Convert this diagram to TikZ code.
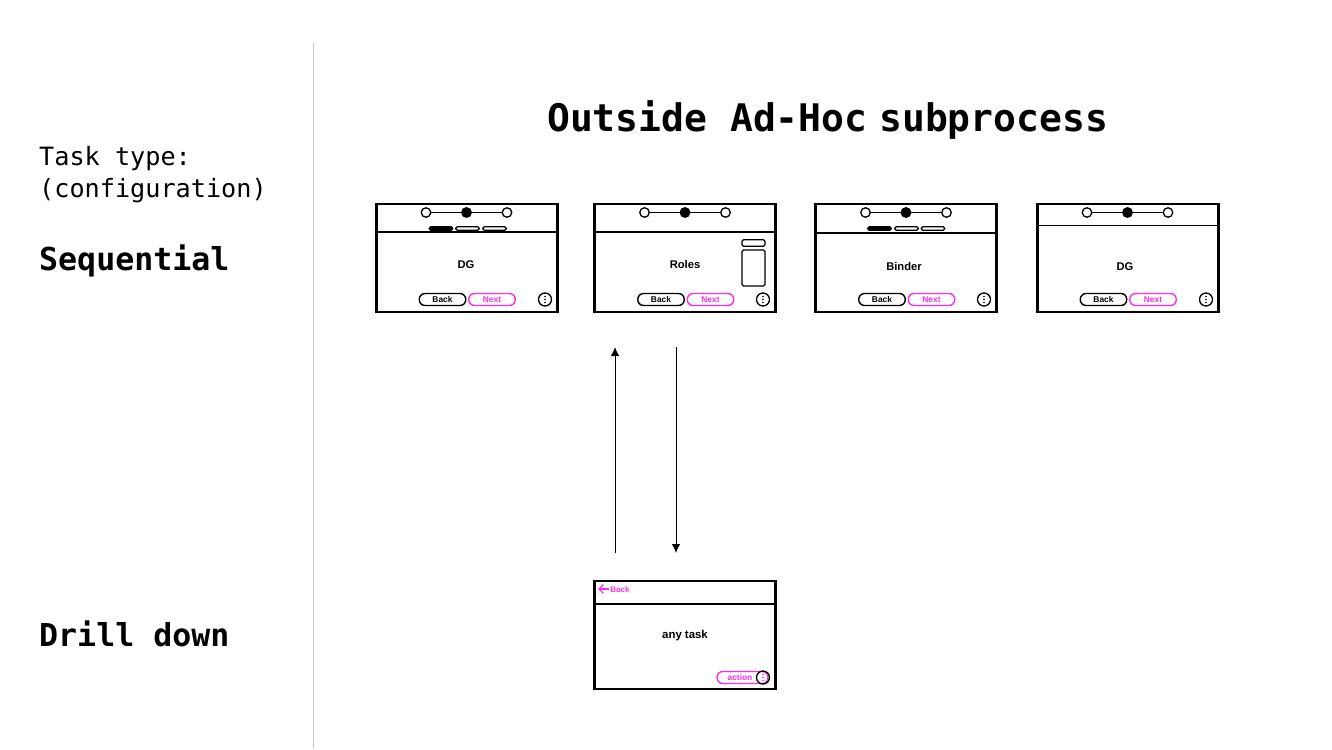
\documentclass[tikz,border=0pt]{standalone}
\usepackage{fontspec}
\setmainfont{Liberation Sans}
\setmonofont{DejaVu Sans Mono}
\usetikzlibrary{arrows.meta}
\definecolor{pinkaction}{HTML}{F92FE6}
\definecolor{dividergray}{HTML}{C4C4C4}
\tikzset{
  screenbox/.style={draw, line width=2.6pt, minimum width=181pt, minimum height=108pt, inner sep=0pt},
  thinrule/.style={line width=1.2pt},
  stepdot/.style={draw, circle, line width=1.3pt, minimum size=9.5pt, inner sep=0pt, fill=white},
  stepcur/.style={stepdot, fill=black},
  btn/.style={draw, rounded corners=5.8pt, line width=1.4pt, minimum width=46.5pt, minimum height=12pt, inner sep=0pt, font=\bfseries\fontsize{8.4}{8.4}\selectfont},
  btnnext/.style={btn, draw=pinkaction, text=pinkaction},
  tab/.style={draw, rounded corners=1.5pt, line width=1.2pt, minimum width=23.5pt, minimum height=3.5pt, inner sep=0pt},
  tabcur/.style={tab, fill=black},
  sidebox/.style={draw, rounded corners=1.5pt, line width=1.3pt, minimum width=23pt, inner sep=0pt},
  menudot/.style={draw, circle, line width=1.3pt, minimum size=13pt, inner sep=0pt},
  screenlabel/.style={font=\bfseries\fontsize{11.2}{11.2}\selectfont, inner sep=0pt},
  sidelabel/.style={anchor=base west, inner sep=0pt, font=\ttfamily\fontsize{25.2}{25.2}\selectfont},
  sidehead/.style={anchor=base west, inner sep=0pt, font=\ttfamily\bfseries\fontsize{31.6}{31.6}\selectfont},
  flow/.style={-{Latex[length=9pt,width=8.5pt]}, line width=1pt}
}
\begin{document}
\begin{tikzpicture}[x=1pt, y=-1pt]
  \useasboundingbox (0,0) rectangle (1332,749);

  % Left column
  \coordinate (divtop) at (313.5,43);
  \coordinate (divbot) at (313.5,749);
  \draw[dividergray, line width=1pt] (divtop) -- (divbot);
  \node[sidelabel] (tasktype) at (39,165) {Task type:};
  \node[sidelabel] (config) at (39,197) {(configuration)};
  \node[sidehead] (sequential) at (39,270.5) {Sequential};
  \node[sidehead] (drill) at (39,646) {Drill down};

  % Title
  \node[anchor=base west, inner sep=0pt, font=\ttfamily\bfseries\fontsize{38}{38}\selectfont] (title) at (547,131.5) {Outside Ad-Hoc\hspace{-11pt} subprocess};

  % Sequential screens: left edge, rule, stepper, label, back button
  \foreach \n/\x/\r/\s/\lx/\ly/\lab/\b in {
      a/376.5/232/466.5/466/264.5/DG/442.5,
      b/594.5/232/685/685/264.5/Roles/661,
      c/815.5/233/906/904/266.5/Binder/882,
      d/1037.5/225.5/1127.5/1125/266.5/DG/1103.5} {
    \node[screenbox] (frame\n) at ({\x+90.5},258) {};
    \draw[thinrule] (\x,\r) -- ({\x+181},\r);
    \node[stepdot] (first\n) at ({\s-40.5},212.5) {};
    \node[stepcur] (mid\n) at (\s,212.5) {};
    \node[stepdot] (last\n) at ({\s+40.5},212.5) {};
    \draw[thinrule] (first\n) -- (mid\n);
    \draw[thinrule] (mid\n) -- (last\n);
    \node[screenlabel] (label\n) at (\lx,\ly) {\lab};
    \node[btn] (back\n) at (\b,299.5) {Back};
    \node[btnnext] (next\n) at ({\b+49.5},299.5) {Next};
    \node[menudot] (menu\n) at ({\x+168.5},299.5) {};
    \foreach \d in {-3,0,3} {
      \fill (menu\n.center) ++(0,\d) circle (0.95);
    }
  }

  % Tabs on the first and third screen
  \node[tabcur] (taba1) at (441,228.5) {};
  \node[tab] (taba2) at (467.5,228.5) {};
  \node[tab] (taba3) at (494.5,228.5) {};
  \node[tabcur] (tabc1) at (879.5,228.5) {};
  \node[tab] (tabc2) at (906.5,228.5) {};
  \node[tab] (tabc3) at (933,228.5) {};

  % Side panel on the roles screen
  \node[sidebox, minimum height=6.5pt] (panelhead) at (753.5,243) {};
  \node[sidebox, minimum height=36pt] (panelbody) at (753.5,268) {};

  % Arrows between roles and drill down
  \coordinate (upstart) at (615,553);
  \coordinate (upend) at (615,347);
  \coordinate (downstart) at (676,347);
  \coordinate (downend) at (676,553);
  \draw[flow] (upstart) -- (upend);
  \draw[flow] (downstart) -- (downend);

  % Drill down screen
  \node[screenbox] (framee) at (685,635) {};
  \draw[thinrule] (594.5,604) -- (775.5,604);
  \coordinate (backtail) at (608.5,589);
  \coordinate (backtip) at (598,589);
  \draw[pinkaction, line width=1.3pt, -{Straight Barb[length=4.5pt,width=9pt]}] (backtail) -- (backtip);
  \node[inner sep=0pt, text=pinkaction, font=\bfseries\fontsize{8}{8}\selectfont] (backe) at (620,589.5) {Back};
  \node[screenlabel, font=\bfseries\fontsize{11.4}{11.4}\selectfont] (labele) at (685,636) {any task};
  \node[btnnext, minimum width=51pt] (actione) at (742.5,677.5) {\hspace{-5pt}action};
  \node[menudot] (menue) at (763,677.5) {};
  \foreach \d in {-3,0,3} {
    \fill[pinkaction] (menue.center) ++(0,\d) circle (0.95);
  }
\end{tikzpicture}
\end{document}
